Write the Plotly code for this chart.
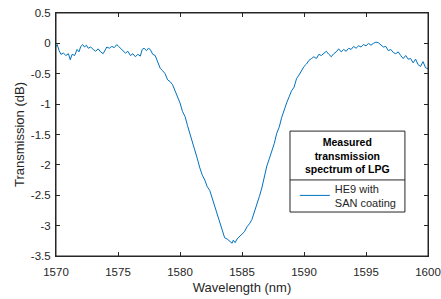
import plotly.graph_objects as go

wavelength = [
    1570.0, 1570.1, 1570.25, 1570.4, 1570.6, 1570.8, 1571.0, 1571.15, 1571.3, 1571.5,
    1571.7, 1571.85, 1572.0, 1572.15, 1572.3, 1572.45, 1572.6, 1572.8, 1573.0, 1573.2,
    1573.4, 1573.6, 1573.8, 1573.95, 1574.1, 1574.3, 1574.5, 1574.7, 1574.9, 1575.05,
    1575.2, 1575.4, 1575.6, 1575.8, 1576.0, 1576.2, 1576.4, 1576.6, 1576.8, 1576.95,
    1577.1, 1577.3, 1577.45, 1577.6, 1577.8, 1578.0, 1578.2, 1578.4, 1578.6, 1578.8,
    1579.0, 1579.2, 1579.4, 1579.6, 1579.8, 1580.0, 1580.2, 1580.4, 1580.6, 1580.8,
    1581.0, 1581.2, 1581.4, 1581.6, 1581.8, 1582.0, 1582.2, 1582.4, 1582.6, 1582.8,
    1583.0, 1583.2, 1583.4, 1583.6, 1583.8, 1584.0, 1584.2, 1584.3, 1584.45, 1584.6,
    1584.8, 1585.0, 1585.2, 1585.4, 1585.6, 1585.8, 1586.0, 1586.2, 1586.4, 1586.6,
    1586.8, 1587.0, 1587.2, 1587.4, 1587.6, 1587.8, 1588.0, 1588.2, 1588.4, 1588.6,
    1588.8, 1589.0, 1589.2, 1589.4, 1589.6, 1589.8, 1590.0, 1590.2, 1590.4, 1590.6,
    1590.8, 1591.0, 1591.2, 1591.4, 1591.6, 1591.8, 1592.0, 1592.2, 1592.4, 1592.6,
    1592.8, 1593.0, 1593.2, 1593.4, 1593.6, 1593.8, 1594.0, 1594.2, 1594.4, 1594.6,
    1594.8, 1595.0, 1595.2, 1595.4, 1595.6, 1595.8, 1596.0, 1596.2, 1596.4, 1596.6,
    1596.8, 1597.0, 1597.2, 1597.4, 1597.6, 1597.8, 1598.0, 1598.2, 1598.4, 1598.6,
    1598.8, 1599.0, 1599.2, 1599.4, 1599.6, 1599.8, 1600.0,
]

transmission = [
    -0.05, -0.02, -0.12, -0.18, -0.16, -0.20, -0.17, -0.27, -0.18, -0.20,
    -0.10, -0.14, -0.05, -0.02, -0.06, -0.03, -0.08, -0.06, -0.10, -0.13,
    -0.09, -0.14, -0.17, -0.10, -0.06, -0.08, -0.05, -0.07, -0.02, -0.05,
    -0.08, -0.12, -0.16, -0.13, -0.20, -0.17, -0.22, -0.18, -0.21, -0.10,
    -0.08, -0.12, -0.08, -0.10, -0.18, -0.20, -0.32, -0.41, -0.45, -0.50,
    -0.60, -0.63, -0.68, -0.78, -0.88, -0.98, -1.12, -1.20, -1.35, -1.48,
    -1.62, -1.78, -1.90, -2.05, -2.17, -2.25, -2.36, -2.42, -2.55, -2.72,
    -2.85, -2.94, -3.10, -3.20, -3.22, -3.25, -3.29, -3.24, -3.28, -3.22,
    -3.18, -3.15, -3.10, -3.02, -2.97, -2.90, -2.78, -2.66, -2.52, -2.38,
    -2.20, -2.02, -1.90, -1.78, -1.65, -1.48, -1.38, -1.22, -1.08, -0.98,
    -0.88, -0.78, -0.72, -0.58, -0.52, -0.45, -0.38, -0.34, -0.28, -0.25,
    -0.22, -0.25, -0.18, -0.20, -0.16, -0.13, -0.18, -0.22, -0.17, -0.14,
    -0.09, -0.14, -0.10, -0.13, -0.08, -0.10, -0.05, -0.08, -0.04, -0.06,
    -0.02, -0.04, 0.00, -0.03, 0.00, 0.02, 0.01, -0.03, -0.06, -0.05,
    -0.12, -0.10, -0.15, -0.17, -0.14, -0.20, -0.25, -0.20, -0.26, -0.25,
    -0.32, -0.26, -0.35, -0.38, -0.30, -0.40, -0.42,
]

x_ticks = [1570, 1575, 1580, 1585, 1590, 1595, 1600]
y_ticks = [0.5, 0, -0.5, -1, -1.5, -2, -2.5, -3, -3.5]
y_tick_labels = ["0.5", "0", "-0.5", "-1", "-1.5", "-2", "-2.5", "-3", "-3.5"]

legend_title = "Measured<br>transmission<br>spectrum of LPG"
series_name = "HE9 with<br>SAN coating"

FONT = "Arial, Liberation Sans, sans-serif"
TXT = "#262626"

fig = go.Figure()
fig.add_trace(go.Scatter(
    x=wavelength, y=transmission, mode="lines", name=series_name,
    line=dict(color="#0072BD", width=1),
))

axis_common = dict(
    showline=True, linecolor=TXT, linewidth=1, mirror="ticks",
    ticks="inside", ticklen=4, tickcolor=TXT, tickwidth=1,
    showgrid=False, zeroline=False, automargin=False,
    tickfont=dict(family=FONT, size=11.5, color=TXT),
)

box_axis = dict(
    showline=True, linecolor=TXT, linewidth=1,
    ticks="inside", ticklen=4, tickcolor=TXT, tickwidth=1,
    showgrid=False, zeroline=False, automargin=False, showticklabels=False,
)

fig.update_layout(
    width=441, height=299,
    margin=dict(l=56, r=13, t=13, b=43),
    paper_bgcolor="white", plot_bgcolor="white",
    font=dict(family=FONT, color=TXT),
    xaxis=dict(range=[1570, 1600], tickvals=x_ticks, ticklabelstandoff=5,
               title=dict(text="Wavelength (nm)", font=dict(family=FONT, size=13, color=TXT), standoff=6),
               **axis_common),
    yaxis=dict(range=[-3.5, 0.5], tickvals=y_ticks, ticktext=y_tick_labels, ticklabelstandoff=2,
               title=dict(text="Transmission (dB)", font=dict(family=FONT, size=13, color=TXT), standoff=3),
               **axis_common),
    xaxis2=dict(range=[1570, 1600], tickvals=x_ticks, overlaying="x", side="top", **box_axis),
    yaxis2=dict(range=[-3.5, 0.5], tickvals=y_ticks, overlaying="y", side="right", **box_axis),
    showlegend=True,
    legend=dict(
        x=0.642, y=0.335, xanchor="left", yanchor="top",
        bgcolor="rgba(0,0,0,0)", borderwidth=0,
        font=dict(family=FONT, size=11, color=TXT),
        itemwidth=30, tracegroupgap=0,
    ),
)

# plot frame (top/right edges)
fig.add_shape(type="rect", xref="paper", yref="paper", x0=0, x1=1, y0=0, y1=1,
              line=dict(color=TXT, width=1), fillcolor="rgba(0,0,0,0)", layer="above")

# legend box, divider and title
x0, x1 = 0.629, 0.938
y0, y1 = 0.181, 0.514
ydiv = 0.313
fig.add_shape(type="rect", xref="paper", yref="paper", x0=x0, x1=x1, y0=y0, y1=y1,
              line=dict(color=TXT, width=1), fillcolor="rgba(0,0,0,0)", layer="below")
fig.add_shape(type="line", xref="paper", yref="paper", x0=x0, x1=x1, y0=ydiv, y1=ydiv,
              line=dict(color=TXT, width=1), layer="below")
fig.add_annotation(xref="paper", yref="paper", x=(x0 + x1) / 2, y=(y1 + ydiv) / 2,
                   text="<b>" + legend_title + "</b>", showarrow=False,
                   xanchor="center", yanchor="middle", align="center",
                   font=dict(family=FONT, size=10.5, color="#000000"))

fig.write_html(
    "out.html",
    config={"displayModeBar": False},
    post_script="document.body.style.margin='0';document.body.style.overflow='hidden';",
)
